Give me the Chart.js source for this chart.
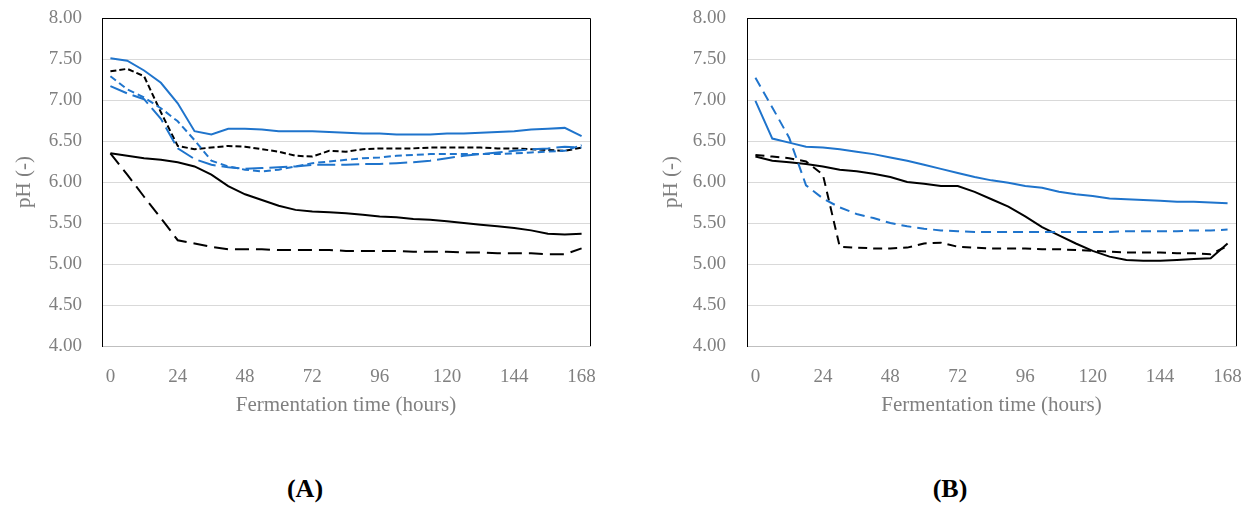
<!DOCTYPE html>
<html>
<head>
<meta charset="utf-8">
<script src="https://cdn.jsdelivr.net/npm/chart.js@4/dist/chart.umd.min.js"></script>
<style>
body{margin:0;background:#fff;width:1252px;height:507px;position:relative;overflow:hidden;font-family:"Liberation Serif",serif;}
.box{position:absolute;top:0;width:626px;height:420px;}
.tag{position:absolute;top:474px;font-weight:bold;font-size:26px;line-height:30px;color:#000;width:80px;text-align:center;}
</style>
</head>
<body>
<div class="box" style="left:0"><canvas id="chartA"></canvas></div>
<div class="box" style="left:626px"><canvas id="chartB"></canvas></div>
<div class="tag" style="left:265px">(A)</div>
<div class="tag" style="left:910px">(B)</div>
<script>
const hours = [0,6,12,18,24,30,36,42,48,54,60,66,72,78,84,90,96,102,108,114,120,126,132,138,144,150,156,162,168];
const yTicks = [4,4.5,5,5.5,6,6.5,7,7.5,8];

// panel A
const aBlueSolid = [7.51,7.48,7.36,7.21,6.96,6.62,6.58,6.65,6.65,6.64,6.62,6.62,6.62,6.61,6.60,6.59,6.59,6.58,6.58,6.58,6.59,6.59,6.60,6.61,6.62,6.64,6.65,6.66,6.56];
const aBlackShortDash = [7.35,7.38,7.29,6.85,6.44,6.40,6.42,6.44,6.43,6.40,6.37,6.32,6.31,6.38,6.37,6.40,6.41,6.41,6.41,6.42,6.42,6.42,6.42,6.41,6.41,6.40,6.39,6.38,6.42];
const aBlueShortDash = [7.29,7.13,7.03,6.90,6.74,6.51,6.26,6.19,6.15,6.13,6.15,6.19,6.23,6.25,6.27,6.29,6.30,6.32,6.33,6.34,6.34,6.34,6.34,6.34,6.35,6.36,6.37,6.38,6.45];
const aBlueLongDash = [7.17,7.08,7.01,6.77,6.41,6.28,6.21,6.18,6.16,6.17,6.18,6.19,6.21,6.21,6.21,6.22,6.22,6.23,6.24,6.26,6.29,6.32,6.34,6.36,6.38,6.40,6.41,6.43,6.42];
const aBlackSolid = [6.35,6.32,6.29,6.27,6.24,6.19,6.09,5.95,5.85,5.78,5.71,5.66,5.64,5.63,5.62,5.60,5.58,5.57,5.55,5.54,5.52,5.50,5.48,5.46,5.44,5.41,5.37,5.36,5.37];
const aBlackLongDash = [6.35,6.09,5.82,5.56,5.29,5.25,5.21,5.18,5.18,5.18,5.17,5.17,5.17,5.17,5.16,5.16,5.16,5.16,5.15,5.15,5.15,5.14,5.14,5.13,5.13,5.13,5.12,5.12,5.19];

// panel B
const bBlueSolid = [6.99,6.53,6.48,6.43,6.42,6.40,6.37,6.34,6.30,6.26,6.21,6.16,6.11,6.06,6.02,5.99,5.95,5.93,5.88,5.85,5.83,5.80,5.79,5.78,5.77,5.76,5.76,5.75,5.74];
const bBlueDash = [7.27,6.91,6.54,5.96,5.80,5.69,5.61,5.56,5.50,5.46,5.43,5.41,5.40,5.39,5.39,5.39,5.39,5.39,5.39,5.39,5.39,5.39,5.40,5.40,5.40,5.40,5.41,5.41,5.42];
const bBlackSolid = [6.31,6.26,6.24,6.22,6.19,6.15,6.13,6.10,6.06,6.00,5.98,5.95,5.95,5.88,5.79,5.70,5.58,5.45,5.35,5.25,5.16,5.09,5.05,5.04,5.04,5.05,5.06,5.07,5.25];
const bBlackDash = [6.33,6.31,6.29,6.25,6.09,5.21,5.20,5.19,5.19,5.20,5.25,5.26,5.21,5.20,5.19,5.19,5.19,5.18,5.18,5.17,5.16,5.15,5.14,5.14,5.14,5.13,5.13,5.12,5.22];

const blue = "#1f74cc";
const grey = "#808080";

function line(data,color,dash){
return {data:data,borderColor:color,borderWidth:2,borderDash:dash,pointRadius:0,tension:0,fill:false};
}

const frame = {
id:"frame",
afterDraw(chart){
const a = chart.chartArea;
const ctx = chart.ctx;
ctx.save();
ctx.strokeStyle = "#000";
ctx.lineWidth = 1;
ctx.beginPath();
ctx.moveTo(a.left,a.top+0.5);
ctx.lineTo(a.right+0.5,a.top+0.5);
ctx.lineTo(a.right+0.5,a.bottom);
ctx.stroke();
ctx.restore();
}
};

function createChart(id,datasets,yWidth,tickPad,titlePad,rightPad){

new Chart(document.getElementById(id),{
type:"line",
data:{labels:hours,datasets:datasets},
plugins:[frame],
options:{
responsive:true,
maintainAspectRatio:false,
animation:false,
layout:{padding:{top:18,right:rightPad,left:0,bottom:0}},
plugins:{legend:{display:false},tooltip:{enabled:false}},
scales:{
x:{
type:"category",
offset:true,
grid:{display:false},
border:{display:true,color:"#bfbfbf",width:1},
ticks:{
autoSkip:false,maxRotation:0,padding:12,color:grey,
font:{family:"Liberation Serif",size:19},
callback:function(v,i){return i%4===0 ? this.getLabelForValue(v) : "";}
},
title:{display:true,text:"Fermentation time (hours)",color:grey,font:{family:"Liberation Serif",size:21},padding:{top:0,bottom:2}},
afterFit:function(s){s.height=74;s.paddingLeft=0;s.paddingRight=0;}
},
y:{
min:4,max:8,
afterBuildTicks:function(s){s.ticks=yTicks.map(v=>({value:v}));},
grid:{color:"#d9d9d9",lineWidth:1,drawTicks:false},
border:{display:true,color:"#000",width:1},
ticks:{padding:tickPad,color:grey,font:{family:"Liberation Serif",size:19},callback:v=>v.toFixed(2)},
title:{display:true,text:"pH (-)",color:grey,font:{family:"Liberation Serif",size:21},padding:{top:titlePad,bottom:0}},
afterFit:function(s){s.width=yWidth;s.paddingTop=0;s.paddingBottom=0;}
}
}
}
});

}

createChart("chartA",[
line(aBlueSolid,blue,[]),
line(aBlueShortDash,blue,[7,4]),
line(aBlueLongDash,blue,[18,6]),
line(aBlackShortDash,"#000",[6,3]),
line(aBlackSolid,"#000",[]),
line(aBlackLongDash,"#000",[14,7])
],102,20,12,36);

createChart("chartB",[
line(bBlueSolid,blue,[]),
line(bBlueDash,blue,[10,6]),
line(bBlackSolid,"#000",[]),
line(bBlackDash,"#000",[9,6])
],121,21,33,16);
</script>
</body>
</html>
